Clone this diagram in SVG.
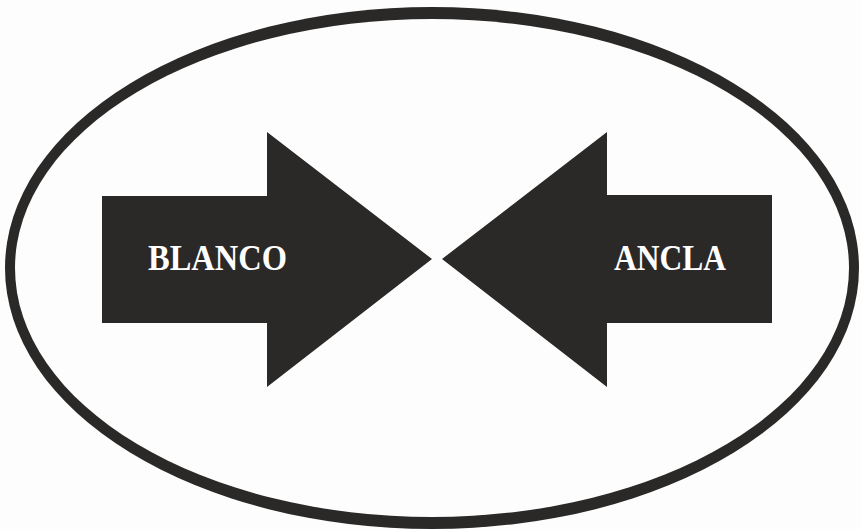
<svg xmlns="http://www.w3.org/2000/svg" width="861" height="529" viewBox="0 0 861 529">
  <style>
    .ink { fill: #2a2928; }
    .label { fill: #ffffff; font-family: "Liberation Serif", "DejaVu Serif", serif; font-weight: bold; font-size: 35px; }
  </style>
  <rect x="0" y="0" width="861" height="529" fill="#fdfdfd"/>
  <g id="frame">
    <ellipse class="ink" cx="432" cy="268" rx="427" ry="261"/>
    <ellipse cx="432" cy="268" rx="417" ry="249" fill="#fdfdfd"/>
  </g>
  <g id="blanco">
    <polygon class="ink" points="102,196 267,196 267,132 432,259 267,387 267,323 102,323"/>
    <text class="label" x="148" y="270" textLength="139" lengthAdjust="spacingAndGlyphs">BLANCO</text>
  </g>
  <g id="ancla">
    <polygon class="ink" points="442,259 607,132 607,195 772,195 772,323 607,323 607,387"/>
    <text class="label" x="614" y="270" textLength="112" lengthAdjust="spacingAndGlyphs">ANCLA</text>
  </g>
</svg>
